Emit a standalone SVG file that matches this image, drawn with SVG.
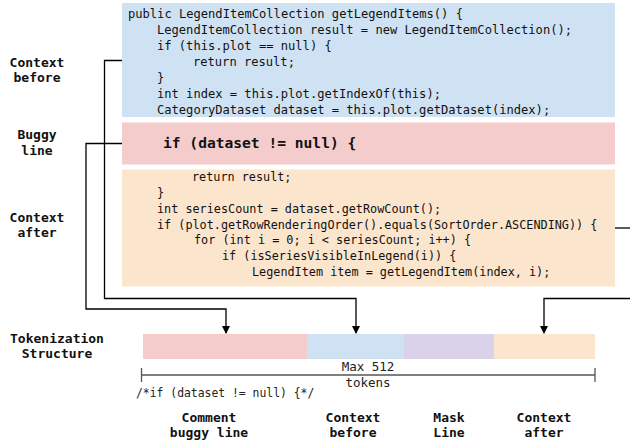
<svg xmlns="http://www.w3.org/2000/svg" width="630" height="444" viewBox="0 0 630 444">
<style>
.code{font-family:"DejaVu Sans Mono","Liberation Mono",monospace;font-size:12.1px;fill:#111;}
.codeo{font-family:"DejaVu Sans Mono","Liberation Mono",monospace;font-size:11.8px;fill:#111;}
.bug{font-family:"DejaVu Sans Mono","Liberation Mono",monospace;font-size:14.6px;font-weight:bold;fill:#111;}
.lbl{font-family:"DejaVu Sans Mono","Liberation Mono",monospace;font-size:13px;font-weight:bold;fill:#111;text-anchor:middle;}
.small{font-family:"DejaVu Sans Mono","Liberation Mono",monospace;font-size:11.4px;fill:#222;}
.tok{font-family:"DejaVu Sans Mono","Liberation Mono",monospace;font-size:12.5px;fill:#222;text-anchor:middle;}
.conn{fill:none;stroke:#000;stroke-width:1.3;}
</style>
<defs>
<marker id="arr" markerWidth="8" markerHeight="8" refX="7" refY="4" orient="auto" markerUnits="userSpaceOnUse">
<path d="M0,0 L8,4 L0,8 z" fill="#000"/>
</marker>
</defs>
<g id="labels-left">
<text class="lbl" x="37" y="66.5">Context</text>
<text class="lbl" x="37" y="82">before</text>
<text class="lbl" x="37" y="138.5">Buggy</text>
<text class="lbl" x="37" y="154.5">line</text>
<text class="lbl" x="37" y="221.5">Context</text>
<text class="lbl" x="37" y="237">after</text>
<text class="lbl" x="57" y="342.5">Tokenization</text>
<text class="lbl" x="57" y="358">Structure</text>
</g>
<g id="context-before">
<rect x="122" y="3" width="493" height="114" fill="#cfe2f3"/>
<text class="code" x="128" y="17.5">public LegendItemCollection getLegendItems() {</text>
<text class="code" x="157" y="33.6">LegendItemCollection result = new LegendItemCollection();</text>
<text class="code" x="157" y="49.7">if (this.plot == null) {</text>
<text class="code" x="193" y="65.8">return result;</text>
<text class="code" x="157" y="81.9">}</text>
<text class="code" x="157" y="98">int index = this.plot.getIndexOf(this);</text>
<text class="code" x="157" y="114">CategoryDataset dataset = this.plot.getDataset(index);</text>
</g>
<g id="buggy-line">
<rect x="122" y="122.5" width="493" height="42" fill="#f4cccc"/>
<text class="bug" x="163" y="147.5">if (dataset != null) {</text>
</g>
<g id="context-after">
<rect x="122" y="169.5" width="493" height="117" fill="#fce5cd"/>
<text class="codeo" x="192" y="180.5">return result;</text>
<text class="codeo" x="157" y="196.5">}</text>
<text class="codeo" x="157" y="212.5">int seriesCount = dataset.getRowCount();</text>
<text class="codeo" x="157" y="228.5">if (plot.getRowRenderingOrder().equals(SortOrder.ASCENDING)) {</text>
<text class="codeo" x="194" y="244">for (int i = 0; i &lt; seriesCount; i++) {</text>
<text class="codeo" x="222" y="260">if (isSeriesVisibleInLegend(i)) {</text>
<text class="codeo" x="252" y="276">LegendItem item = getLegendItem(index, i);</text>
</g>
<g id="token-bar">
<rect x="143" y="334" width="164" height="25" fill="#f4cccc"/>
<rect x="307" y="334" width="97" height="25" fill="#cfe2f3"/>
<rect x="404" y="334" width="90" height="25" fill="#d9d2e9"/>
<rect x="494" y="334" width="101" height="25" fill="#fce5cd"/>
</g>
<g id="scale">
<path d="M141.5,375 H595 M141.5,368 V382 M595,368 V382" fill="none" stroke="#555" stroke-width="1.3"/>
<text class="tok" x="368" y="371">Max 512</text>
<text class="tok" x="368" y="387">tokens</text>
<text class="small" x="136" y="397">/*if (dataset != null) {*/</text>
</g>
<g id="labels-bottom">
<text class="lbl" x="209" y="421.5">Comment</text>
<text class="lbl" x="209" y="437">buggy line</text>
<text class="lbl" x="353" y="421.5">Context</text>
<text class="lbl" x="353" y="437">before</text>
<text class="lbl" x="449" y="421.5">Mask</text>
<text class="lbl" x="449" y="437">Line</text>
<text class="lbl" x="544" y="421.5">Context</text>
<text class="lbl" x="544" y="437">after</text>
</g>
<g id="connectors">
<path class="conn" d="M122,60.5 H104.5 V298.5 H356 V333" marker-end="url(#arr)"/>
<path class="conn" d="M122,143.5 H86 V309 H226 V333" marker-end="url(#arr)"/>
<path class="conn" d="M615,228 H630"/>
<path class="conn" d="M630,298.5 H544 V333" marker-end="url(#arr)"/>
</g>
</svg>
